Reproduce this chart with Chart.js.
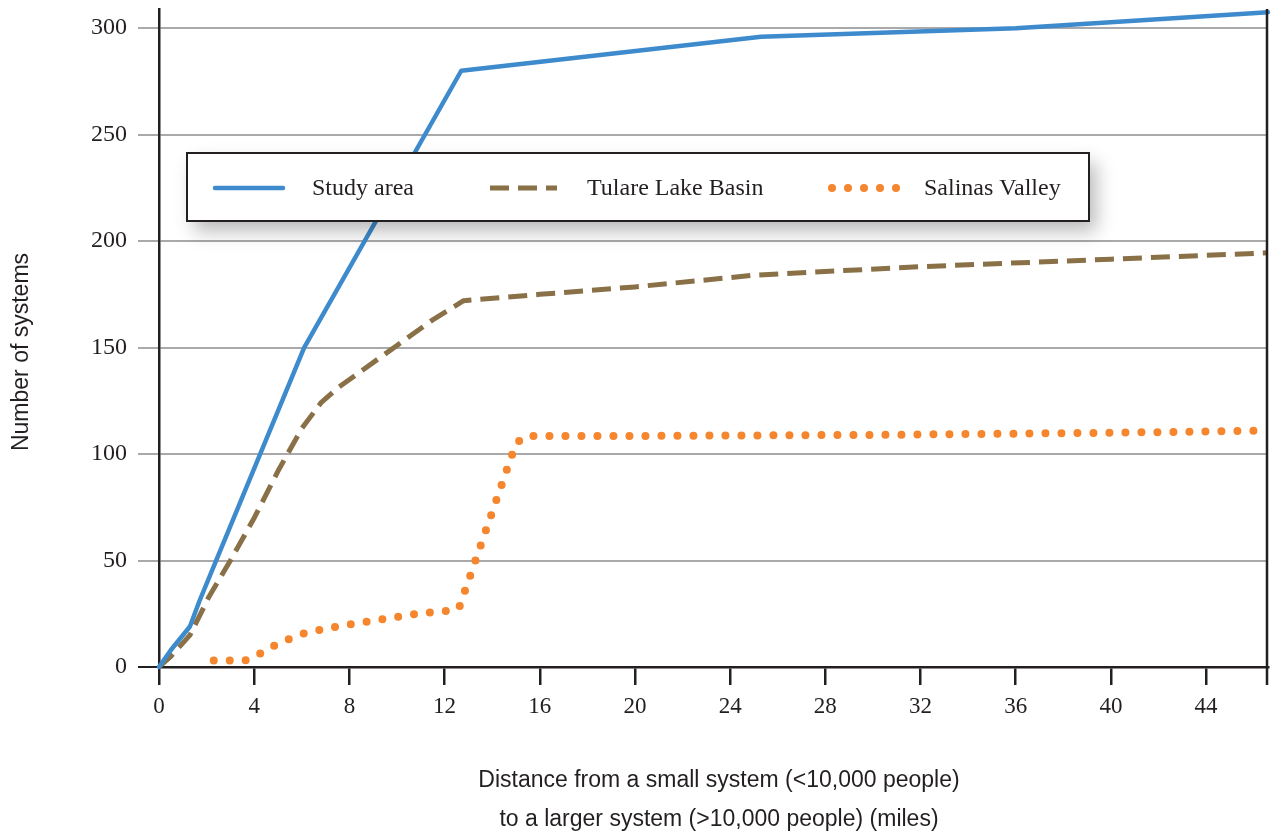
<!DOCTYPE html>
<html>
<head>
<meta charset="utf-8">
<script src="https://cdn.jsdelivr.net/npm/chart.js@4.4.1/dist/chart.umd.min.js"></script>
<style>
  html, body { margin: 0; padding: 0; background: #fff; }
  #wrap { width: 1273px; height: 836px; }
</style>
</head>
<body>
<div id="wrap"><canvas id="chart" width="1273" height="836"></canvas></div>
<script>
// series names
const seriesNames = ["Study area", "Tulare Lake Basin", "Salinas Valley"];

// Study area
const studyX = [0, 0.5, 1.3, 1.7, 2.4, 6.1, 12.7, 25.3, 36, 46.6];
const studyY = [0, 8, 19, 31, 50, 150, 280, 296, 300, 307.5];

// Tulare Lake Basin
const tulareX = [0, 0.5, 1.3, 2.1, 3, 4, 5, 6, 6.8, 7.5, 8.5, 10, 11.5, 12.8, 16, 20, 25, 32, 40, 46.6];
const tulareY = [0, 5, 15, 33, 50, 70, 92, 112, 124, 131, 139, 151, 163, 172, 175, 178.5, 184, 188, 191.5, 194.5];

// Salinas Valley
const salinasX = [2.3, 3.6, 4.2, 5, 6, 7, 8, 9, 10, 11, 12.1, 12.6, 15, 15.4, 20, 30, 40, 46.6];
const salinasY = [3, 3, 6, 11, 15.5, 18, 20, 21.7, 23.5, 25.3, 26.3, 27.5, 105, 108.5, 108.5, 109, 110, 111];

// ticks
const xTicks = [0, 4, 8, 12, 16, 20, 24, 28, 32, 36, 40, 44];
const yTicks = [0, 50, 100, 150, 200, 250, 300];

const xTitle = ["Distance from a small system (<10,000 people)", "to a larger system (>10,000 people) (miles)"];
const yTitle = "Number of systems";

const ink = "#231f20";
const serif = "'Liberation Serif', 'DejaVu Serif', serif";
const sans = "'Liberation Sans', Arial, sans-serif";

const pts = (xs, ys) => xs.map((x, i) => ({ x: x, y: ys[i] }));

// legend box drawn over the plot, with its shadow
const boxLegend = {
  id: "boxLegend",
  afterDatasetsDraw(chart) {
    const c = chart.ctx;
    c.save();
    c.shadowColor = "rgba(0,0,0,0.28)";
    c.shadowBlur = 18;
    c.shadowOffsetX = 7;
    c.shadowOffsetY = 10;
    c.fillStyle = "#fff";
    c.fillRect(187, 153, 902, 68);
    c.restore();

    c.save();
    c.strokeStyle = ink;
    c.lineWidth = 2;
    c.strokeRect(187, 153, 902, 68);

    const sampleX = [215, 490, 832];
    const sampleEnd = [283, 557, 899];
    const textX = [312, 587, 924];
    chart.data.datasets.forEach((ds, i) => {
      c.beginPath();
      c.strokeStyle = ds.borderColor;
      c.lineWidth = ds.borderWidth;
      c.lineCap = ds.borderCapStyle;
      c.setLineDash(ds.borderDash || []);
      c.moveTo(sampleX[i], 188);
      c.lineTo(sampleEnd[i], 188);
      c.stroke();
      c.setLineDash([]);
      c.fillStyle = ink;
      c.font = "24px " + serif;
      c.textBaseline = "middle";
      c.fillText(ds.label, textX[i], 189);
    });
    c.restore();
  }
};

const axisExtras = {
  id: "axisExtras",
  afterDraw(chart) {
    const c = chart.ctx;
    const a = chart.chartArea;
    c.save();
    // right frame line
    c.strokeStyle = ink;
    c.lineWidth = 2.5;
    c.beginPath();
    c.moveTo(a.right - 1, a.top);
    c.lineTo(a.right - 1, a.bottom + 18);
    c.stroke();

    c.fillStyle = ink;
    c.font = "23px " + sans;
    c.textAlign = "center";
    c.textBaseline = "middle";
    c.fillText(xTitle[0], 719, 781);
    c.fillText(xTitle[1], 719, 820);

    c.translate(22, 352);
    c.rotate(-Math.PI / 2);
    c.fillText(yTitle, 0, 0);
    c.restore();
  }
};

new Chart(document.getElementById("chart").getContext("2d"), {
  type: "line",
  data: {
    datasets: [
      {
        label: seriesNames[0],
        data: pts(studyX, studyY),
        borderColor: "#3d8bcd",
        borderWidth: 4.5,
        borderCapStyle: "round",
        borderJoinStyle: "round",
        pointRadius: 0,
        tension: 0
      },
      {
        label: seriesNames[1],
        data: pts(tulareX, tulareY),
        borderColor: "#8a7047",
        borderWidth: 5,
        borderDash: [19, 9],
        borderCapStyle: "butt",
        borderJoinStyle: "round",
        pointRadius: 0,
        tension: 0
      },
      {
        label: seriesNames[2],
        data: pts(salinasX, salinasY),
        borderColor: "#f5862d",
        borderWidth: 8,
        borderDash: [0, 16],
        borderCapStyle: "round",
        borderJoinStyle: "round",
        pointRadius: 0,
        tension: 0
      }
    ]
  },
  options: {
    responsive: false,
    animation: false,
    clip: false,
    layout: { padding: { top: 9, right: 5, left: 0, bottom: 0 } },
    plugins: {
      legend: { display: false },
      tooltip: { enabled: false }
    },
    scales: {
      x: {
        type: "linear",
        min: 0,
        max: 46.6,
        afterBuildTicks: s => { s.ticks = xTicks.map(v => ({ value: v })); },
        afterFit: s => { s.height = 169; s.paddingLeft = 0; s.paddingRight = 0; },
        ticks: { color: ink, font: { family: serif, size: 23 }, padding: 8, maxRotation: 0 },
        grid: { drawOnChartArea: false, drawTicks: true, tickLength: 18, color: ink, lineWidth: 2.5 },
        border: { display: true, color: ink, width: 2.5 }
      },
      y: {
        min: 0,
        max: 309,
        afterBuildTicks: s => { s.ticks = yTicks.map(v => ({ value: v })); },
        afterFit: s => { s.width = 159; s.paddingTop = 0; s.paddingBottom = 0; },
        ticks: { color: ink, font: { family: serif, size: 24 }, padding: 11 },
        grid: {
          tickLength: 21,
          lineWidth: 2,
          color: ctx => (ctx.tick && ctx.tick.value === 0 ? ink : "#a9a9ac")
        },
        border: { display: true, color: ink, width: 2.5 }
      }
    }
  },
  plugins: [boxLegend, axisExtras]
});
</script>
</body>
</html>
